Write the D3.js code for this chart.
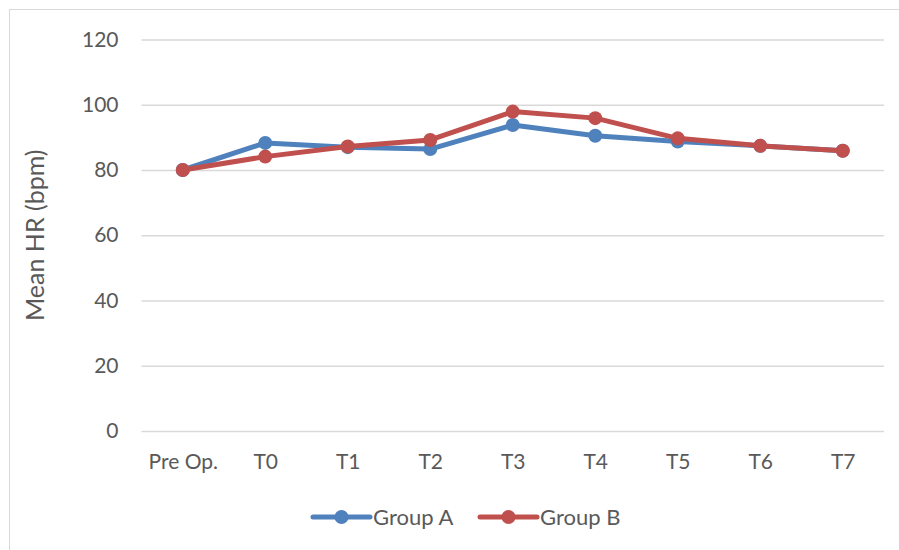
<!DOCTYPE html>
<html>
<head>
<meta charset="utf-8">
<script src="https://cdn.jsdelivr.net/npm/d3@7"></script>
<style>
  html, body { margin: 0; padding: 0; background: #fff; }
  svg { display: block; }
  text { font-family: Lato, "Open Sans", sans-serif; fill: #595959; }
</style>
</head>
<body>
<svg id="chart" width="899" height="550"></svg>
<script>
// Time points and mean heart rate (bpm) per group
const categories = ["Pre Op.", "T0", "T1", "T2", "T3", "T4", "T5", "T6", "T7"];
const groupA = [80, 88.3, 87.0, 86.4, 93.8, 90.5, 88.7, 87.4, 85.9];
const groupB = [80, 84.1, 87.2, 89.2, 97.9, 95.9, 89.7, 87.4, 85.9];
const seriesNames = ["Group A", "Group B"];
const seriesColors = ["#4F81BD", "#C0504D"];
const yTicks = [0, 20, 40, 60, 80, 100, 120];

const svg = d3.select("#chart");

// Outer chart frame
svg.append("rect")
  .attr("x", 9.5).attr("y", 9.5)
  .attr("width", 900).attr("height", 560)
  .attr("fill", "none").attr("stroke", "#d9d9d9").attr("stroke-width", 1);

const x = d3.scalePoint().domain(categories).range([141.5, 884]).padding(0.5);
const y = d3.scaleLinear().domain([0, 120]).range([431, 39.5]);

// Horizontal gridlines + value labels
const yAxis = d3.axisLeft(y).tickValues(yTicks).tickSize(-(884 - 141.5)).tickPadding(23);
const gy = svg.append("g").attr("transform", "translate(141.5,0)").call(yAxis);
gy.select(".domain").remove();
gy.selectAll(".tick line").attr("stroke", "#d9d9d9").attr("stroke-width", 1.5);
gy.selectAll(".tick text").attr("font-size", 21).attr("fill", "#595959")
  .style("font-family", "Lato, sans-serif");

// Category labels
const xAxis = d3.axisBottom(x).tickSize(0).tickPadding(23);
const gx = svg.append("g").attr("transform", "translate(0,431)").call(xAxis);
gx.select(".domain").remove();
gx.selectAll(".tick text").attr("font-size", 21).attr("fill", "#595959")
  .style("font-family", "Lato, sans-serif");

// Y axis title
svg.append("text")
  .attr("transform", `translate(44,${(39.5 + 431) / 2}) rotate(-90)`)
  .attr("text-anchor", "middle")
  .attr("font-size", 25)
  .text("Mean HR (bpm)");

// Lines with circular markers
const series = [groupA, groupB];
const line = d3.line().x((d, i) => x(categories[i])).y(d => y(d));

series.forEach((vals, s) => {
  const g = svg.append("g");
  g.append("path")
    .datum(vals)
    .attr("d", line)
    .attr("fill", "none")
    .attr("stroke", seriesColors[s])
    .attr("stroke-width", 5)
    .attr("stroke-linejoin", "round")
    .attr("stroke-linecap", "round");
  g.selectAll("circle")
    .data(vals)
    .join("circle")
    .attr("cx", (d, i) => x(categories[i]))
    .attr("cy", d => y(d))
    .attr("r", 7)
    .attr("fill", seriesColors[s]);
});

// Legend
const legendX = [313, 480];
const legendY = 517;
seriesNames.forEach((name, s) => {
  const g = svg.append("g").attr("transform", `translate(${legendX[s]},${legendY})`);
  g.append("line")
    .attr("x1", 0).attr("x2", 57).attr("y1", 0).attr("y2", 0)
    .attr("stroke", seriesColors[s]).attr("stroke-width", 5).attr("stroke-linecap", "round");
  g.append("circle").attr("cx", 28.5).attr("cy", 0).attr("r", 7).attr("fill", seriesColors[s]);
  g.append("text")
    .attr("x", 60).attr("y", 0).attr("dy", "0.35em")
    .attr("font-size", 22)
    .text(name);
});
</script>
</body>
</html>
